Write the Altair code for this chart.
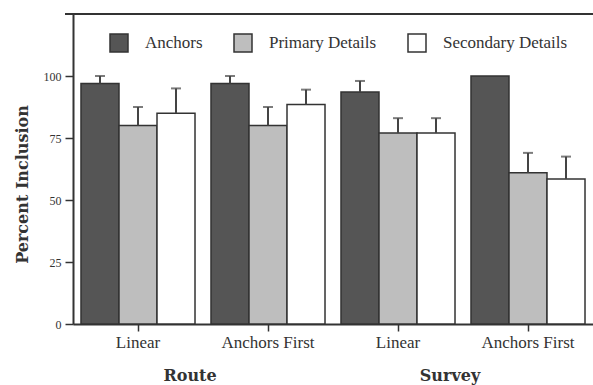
import altair as alt
import pandas as pd

# Conditions along the x axis (group | presentation order)
groups = ["Route", "Route", "Survey", "Survey"]
orders = ["Linear", "Anchors First", "Linear", "Anchors First"]
series = ["Anchors", "Primary Details", "Secondary Details"]

# Percent inclusion per series, one value per condition
anchors = [97, 97, 93.5, 100]
primary = [80, 80, 77, 61]
secondary = [85, 88.5, 77, 58.5]

# Upper error bar lengths (0 = no bar drawn)
anchors_err = [3, 3, 4.5, 0]
primary_err = [7.5, 7.5, 6, 8]
secondary_err = [10, 6, 6, 9]

y_ticks = [0, 25, 50, 75, 100]
fills = ["#555555", "#bebebe", "#ffffff"]
ink = "#333333"

cells = [f"{g}|{o}" for g, o in zip(groups, orders)]
rows = []
for i, cell in enumerate(cells):
    for s, vals, errs in zip(series, [anchors, primary, secondary],
                             [anchors_err, primary_err, secondary_err]):
        rows.append({"cell": cell, "series": s, "value": vals[i],
                     "top": vals[i] + errs[i], "err": errs[i]})
df = pd.DataFrame(rows)

group_titles = pd.DataFrame({"cell": ["Route|Linear", "Survey|Linear"],
                             "label": ["Route", "Survey"]})

W, H = 520, 310

x_enc = alt.X(
    "cell:N", sort=cells,
    scale=alt.Scale(domain=cells, paddingInner=0.123, paddingOuter=0.0615),
    axis=alt.Axis(title=None, labelExpr="split(datum.label, '|')[1]",
                  labelAngle=0, labelFont="Liberation Serif", labelFontSize=17,
                  labelColor=ink, tickSize=7, tickColor=ink, tickWidth=1.5,
                  domainColor=ink, domainWidth=2, labelPadding=3),
)
xo_enc = alt.XOffset("series:N", sort=series,
                     scale=alt.Scale(domain=series, paddingInner=0, paddingOuter=0))
y_scale = alt.Scale(domain=[0, 125], nice=False)

base = alt.Chart(df)

bars = base.mark_bar(stroke=ink, strokeWidth=1.5).encode(
    x=x_enc,
    xOffset=xo_enc,
    y=alt.Y("value:Q", scale=y_scale,
            axis=alt.Axis(values=y_ticks, grid=False, tickSize=8, tickColor=ink,
                          tickWidth=1.5, domainColor=ink, domainWidth=2,
                          labelFont="Liberation Serif", labelFontSize=12,
                          labelColor=ink, labelPadding=4,
                          title="Percent Inclusion", titleFont="DejaVu Serif",
                          titleFontWeight="bold", titleFontSize=16,
                          titleColor=ink, titleX=-46, titleY=170,
                          titleBaseline="alphabetic")),
    color=alt.Color("series:N", sort=series,
                    scale=alt.Scale(domain=series, range=fills),
                    legend=alt.Legend(title=None, orient="none", legendX=36,
                                      legendY=19, direction="horizontal",
                                      symbolType="square", symbolSize=324,
                                      symbolStrokeColor=ink, symbolStrokeWidth=1.5,
                                      symbolOpacity=1,
                                      labelFont="Liberation Serif",
                                      labelFontSize=17, labelColor=ink,
                                      labelOffset=16, columnPadding=28)),
)

err = base.transform_filter("datum.err > 0")

stems = err.mark_rule(color="#444444", strokeWidth=2).encode(
    x=x_enc, xOffset=xo_enc, y=alt.Y("value:Q", scale=y_scale), y2="top:Q",
)
caps = err.mark_tick(color="#444444", thickness=2, size=10).encode(
    x=x_enc, xOffset=xo_enc, y=alt.Y("top:Q", scale=y_scale),
)

titles = alt.Chart(group_titles).mark_text(
    font="DejaVu Serif", fontWeight="bold", fontSize=16, color=ink, dx=52,
    baseline="middle",
).encode(x=alt.X("cell:N", sort=cells), y=alt.value(362), text="label:N")

frame_top = alt.Chart(pd.DataFrame({"k": [0]})).mark_rule(
    color=ink, strokeWidth=2
).encode(x=alt.value(-8), x2=alt.value(W), y=alt.value(0))

chart = alt.layer(bars, stems, caps, titles, frame_top).properties(
    width=W, height=H,
    autosize=alt.AutoSizeParams(type="none"),
    padding={"left": 73, "top": 14, "right": 0, "bottom": 61},
).configure_view(stroke=None).configure(background="white")

chart.save("out.html", embed_options={"renderer": "svg", "actions": False})
